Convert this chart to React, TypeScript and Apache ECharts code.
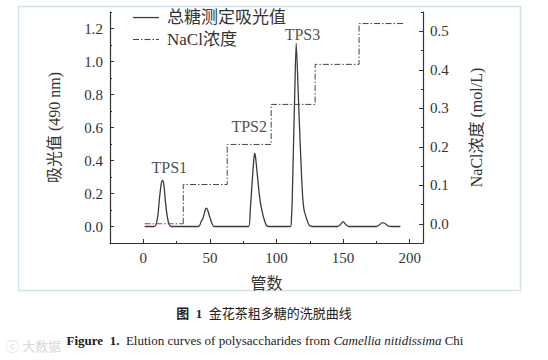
import React, { useEffect, useRef } from "react";
import * as echarts from "echarts";

// 管数 vs 总糖测定吸光值 (490 nm)
const sugarCurve: [number, number][] = [
  [1, 0], [8, 0], [9.5, 0.01], [11, 0.07], [12, 0.16], [13.5, 0.26], [14.5, 0.28], [15.5, 0.25],
  [16.5, 0.16], [18, 0.06], [19.5, 0.01], [21, 0],
  [41.5, 0], [43.5, 0.03], [45, 0.055], [46.5, 0.1], [47.5, 0.111], [48.5, 0.095], [50, 0.055],
  [51.5, 0.02], [53, 0],
  [79, 0], [80.3, 0.1], [81.5, 0.24], [83, 0.41], [83.8, 0.444], [84.8, 0.38], [86.5, 0.24],
  [88, 0.14], [89, 0.1], [90.5, 0.05], [92.5, 0.005], [94, 0],
  [110.5, 0], [111.3, 0.06], [111.8, 0.16], [112.8, 0.5], [113.6, 0.77], [114.8, 1.11],
  [116.5, 0.77], [117.8, 0.5], [119.5, 0.2], [120.7, 0.1], [122.5, 0.05], [124.5, 0.008], [127, 0],
  [146, 0], [148, 0.012], [150, 0.03], [152, 0.012], [154, 0],
  [175, 0], [177, 0.008], [179.5, 0.024], [182, 0.015], [184, 0.003], [186, 0], [193, 0],
];

// NaCl浓度 (mol/L) step gradient
const naclSteps: [number, number][] = [
  [30, 0], [30, 0.102], [63, 0.102], [63, 0.206], [96, 0.206], [96, 0.31],
  [129, 0.31], [129, 0.414], [162, 0.414], [162, 0.52], [195, 0.52],
];
const naclStart: [number, number][] = [[1, 0], [30, 0]];

const peakNames = ["TPS1", "TPS2", "TPS3"];
const peakLabelX = [19.5, 79.5, 119.5];
const peakLabelY = [0.36, 0.609, 1.166];

const legendNames = ["总糖测定吸光值", "NaCl浓度"];

const xMajor = [0, 50, 100, 150, 200];
const xMinor = [25, 75, 125, 175];
const leftMajor = [0, 0.2, 0.4, 0.6, 0.8, 1.0, 1.2];
const leftMinor = [0.1, 0.3, 0.5, 0.7, 0.9, 1.1, 1.3];
const rightMajor = [0, 0.1, 0.2, 0.3, 0.4, 0.5];
const rightMinor = [0.05, 0.15, 0.25, 0.35, 0.45, 0.55];

const FONT = "'Liberation Serif', 'Noto Sans CJK SC', serif";
const INK = "#333333";
const DASHDOT = [6, 2, 1.5, 2];

// legend key drawn as small filled rects (dash-dot segments)
function dashRects(x0: number, x1: number, y: number, h: number, color: string) {
  const out: any[] = [];
  let x = x0;
  let i = 0;
  while (x < x1) {
    const len = DASHDOT[i % DASHDOT.length];
    if (i % 2 === 0) {
      out.push({
        type: "rect", silent: true,
        shape: { x, y: y - h / 2, width: Math.min(len, x1 - x), height: h },
        style: { fill: color },
      });
    }
    x += len;
    i++;
  }
  return out;
}

export default function App() {
  const ref = useRef<HTMLDivElement>(null);
  useEffect(() => {
    document.body.style.margin = "0";
    if (!ref.current) return;
    const chart = echarts.init(ref.current, undefined, { renderer: "svg" });
    const axisLine = { show: true, onZero: false, lineStyle: { color: INK, width: 1.2 } };
    const hiddenLine = { show: false, onZero: false };
    const tickStyle = { color: INK, width: 1 };
    const labelStyle = { fontFamily: FONT, fontSize: 15, color: INK };
    const nameStyle = { fontFamily: FONT, fontSize: 16, color: INK };
    chart.setOption({
      animation: false,
      backgroundColor: "#ffffff",
      grid: { left: 110, right: 125, top: 12, bottom: 117 },
      xAxis: [
        {
          type: "value", min: -25, max: 210, position: "bottom",
          axisLine,
          axisTick: { show: true, inside: true, length: 4, customValues: xMajor, lineStyle: tickStyle },
          axisLabel: { show: true, customValues: xMajor, margin: 7, ...labelStyle },
          splitLine: { show: false },
          name: "管数", nameLocation: "middle", nameGap: 32, nameTextStyle: nameStyle,
        },
        {
          type: "value", min: -25, max: 210, position: "bottom",
          axisLine: hiddenLine,
          axisTick: { show: true, inside: true, length: 2, customValues: xMinor, lineStyle: tickStyle },
          axisLabel: { show: false },
          splitLine: { show: false },
        },
      ],
      yAxis: [
        {
          type: "value", min: -0.1, max: 1.3, position: "left",
          axisLine,
          axisTick: { show: true, inside: true, length: 4, customValues: leftMajor, lineStyle: tickStyle },
          axisLabel: { show: true, customValues: leftMajor, margin: 7, formatter: (v: number) => v.toFixed(1), ...labelStyle },
          splitLine: { show: false },
          name: "吸光值 (490 nm)", nameLocation: "middle", nameGap: 48, nameRotate: 90, nameTextStyle: nameStyle,
        },
        {
          type: "value", min: -0.05, max: 0.55, position: "right",
          axisLine,
          axisTick: { show: true, inside: true, length: 4, customValues: rightMajor, lineStyle: tickStyle },
          axisLabel: { show: true, customValues: rightMajor, margin: 7, formatter: (v: number) => v.toFixed(1), ...labelStyle },
          splitLine: { show: false },
          name: "NaCl浓度 (mol/L)", nameLocation: "middle", nameGap: 45, nameRotate: 90, nameTextStyle: nameStyle,
        },
        {
          type: "value", min: -0.1, max: 1.3, position: "left",
          axisLine: hiddenLine,
          axisTick: { show: true, inside: true, length: 2, customValues: leftMinor, lineStyle: tickStyle },
          axisLabel: { show: false },
          splitLine: { show: false },
        },
        {
          type: "value", min: -0.05, max: 0.55, position: "right",
          axisLine: hiddenLine,
          axisTick: { show: true, inside: true, length: 2, customValues: rightMinor, lineStyle: tickStyle },
          axisLabel: { show: false },
          splitLine: { show: false },
        },
      ],
      series: [
        {
          name: legendNames[0], type: "line", xAxisIndex: 0, yAxisIndex: 0,
          data: sugarCurve, symbol: "none", showSymbol: false, smooth: 0.25,
          lineStyle: { color: "#3a3a3a", width: 1.3 },
          itemStyle: { color: "#3a3a3a" },
        },
        {
          name: legendNames[1], type: "line", xAxisIndex: 0, yAxisIndex: 1,
          data: naclSteps, symbol: "none", showSymbol: false,
          lineStyle: { color: "#444444", width: 1, type: DASHDOT },
          itemStyle: { color: "#444444" },
        },
        {
          name: "NaCl起始", type: "line", xAxisIndex: 0, yAxisIndex: 1,
          data: naclStart, symbol: "none", showSymbol: false,
          lineStyle: { color: "#b03a3a", width: 1.2, type: DASHDOT },
        },
        {
          name: "峰标注", type: "scatter", xAxisIndex: 0, yAxisIndex: 0,
          data: peakNames.map((n, i) => ({ value: [peakLabelX[i], peakLabelY[i]], name: n })),
          symbolSize: 0,
          label: {
            show: true, position: "inside", formatter: (p: any) => p.name,
            fontFamily: FONT, fontSize: 16, color: "#222222",
          },
        },
      ],
      graphic: [
        {
          type: "rect", left: 16, top: 4, silent: true,
          shape: { width: 502, height: 284 },
          style: { fill: "none", stroke: "#d3e3ea", lineWidth: 1.5 },
        },
        {
          type: "rect", silent: true,
          shape: { x: 133, y: 16.9, width: 26, height: 1.3 },
          style: { fill: "#3a3a3a" },
        },
        ...dashRects(133, 159, 39.5, 1.1, "#444444"),
        {
          type: "text", silent: true, x: 167, y: 17.5,
          style: {
            text: legendNames[0], fontFamily: FONT, fontSize: 17, fill: INK,
            textAlign: "left", textVerticalAlign: "middle",
          },
        },
        {
          type: "text", silent: true, x: 167, y: 39.5,
          style: {
            text: legendNames[1], fontFamily: FONT, fontSize: 17, fill: INK,
            textAlign: "left", textVerticalAlign: "middle",
          },
        },
        {
          type: "text", x: 264, y: 313,
          style: {
            text: "{b|图  1}  金花茶粗多糖的洗脱曲线",
            fontFamily: FONT, fontSize: 13, fill: "#222222",
            textAlign: "center", textVerticalAlign: "middle",
            rich: { b: { fontWeight: "bold", fontFamily: FONT, fontSize: 13, fill: "#222222" } },
          },
        },
        {
          type: "text", x: 265, y: 340,
          style: {
            text: "{b|Figure  1.}  Elution curves of polysaccharides from {i|Camellia nitidissima} Chi",
            fontFamily: FONT, fontSize: 13, fill: "#222222",
            textAlign: "center", textVerticalAlign: "middle",
            rich: {
              b: { fontWeight: "bold", fontFamily: FONT, fontSize: 13, fill: "#222222" },
              i: { fontStyle: "italic", fontFamily: FONT, fontSize: 13, fill: "#222222" },
            },
          },
        },
        {
          type: "text", x: 6, y: 346,
          style: {
            text: "ⓒ 大数据",
            fontFamily: FONT, fontSize: 13, fill: "#d8d8d8",
            textAlign: "left", textVerticalAlign: "middle",
          },
        },
      ],
    });
    return () => chart.dispose();
  }, []);
  return (
    <div
      ref={ref}
      style={{ position: "fixed", left: 0, top: 0, width: 548, height: 360, background: "#ffffff" }}
    />
  );
}
